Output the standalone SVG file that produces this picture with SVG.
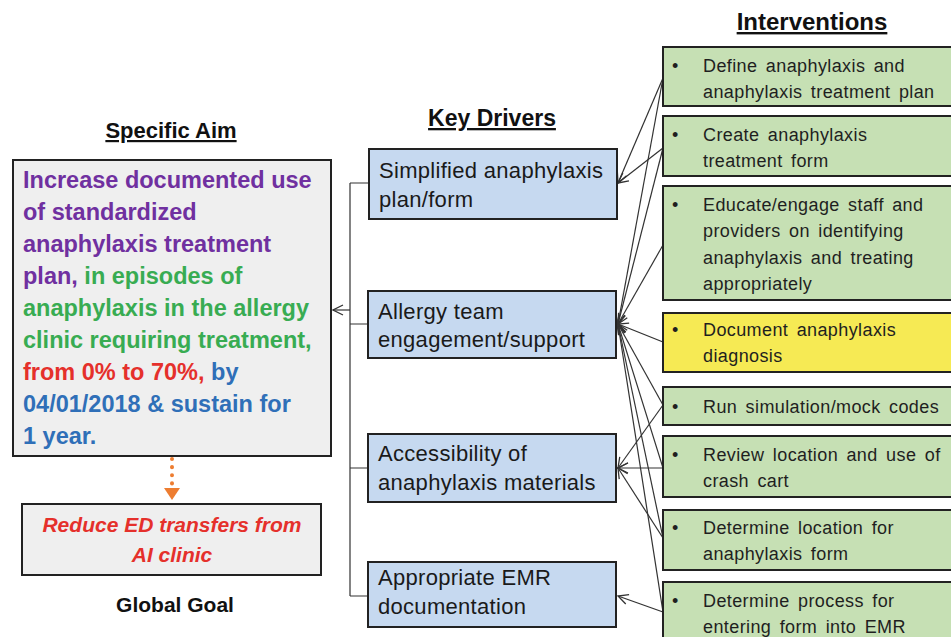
<svg xmlns="http://www.w3.org/2000/svg" width="951" height="637" viewBox="0 0 951 637">
  <style>
    .hdr { font-family: "Liberation Sans", Arial, sans-serif; font-weight: bold; fill: #111; text-anchor: middle; text-decoration: underline; }
    .aim { fill: #efefef; stroke: #222; stroke-width: 2; }
    .aimtxt { font-family: "Liberation Sans", Arial, sans-serif; font-weight: bold; font-size: 23.5px; }
    .pu { fill: #7030a0; } .gr { fill: #38ac52; } .rd { fill: #e5302b; } .bl { fill: #2f6fb8; }
    .drv { fill: #c6d9f0; stroke: #222; stroke-width: 2; }
    .drvtxt { font-family: "Liberation Sans", Arial, sans-serif; font-size: 22px; letter-spacing: 0.3px; fill: #1a1a1a; }
    .int { fill: #c6e0b4; stroke: #222; stroke-width: 2; }
    .intY { fill: #f6ea54; stroke: #222; stroke-width: 2; }
    .inttxt { font-family: "Liberation Sans", Arial, sans-serif; font-size: 18px; fill: #1f1f1f; letter-spacing: 0.4px; word-spacing: 3px; }
    .conn { stroke: #333; stroke-width: 1.2; fill: none; }
  </style>
  <defs>
    <marker id="vee" markerWidth="12" markerHeight="12" refX="11" refY="6" orient="auto" markerUnits="userSpaceOnUse">
      <path d="M1,1 L11,6 L1,11" fill="none" stroke="#333" stroke-width="1.3"/>
    </marker>
    <marker id="tri" markerWidth="14" markerHeight="18" refX="2" refY="8" orient="auto" markerUnits="userSpaceOnUse">
      <path d="M0,0 L12,8 L0,16 Z" fill="#ed7d31"/>
    </marker>
  </defs>

  <rect width="951" height="637" fill="#ffffff"/>

  <!-- column headings -->
  <text class="hdr" x="171" y="138" font-size="22">Specific Aim</text>
  <text class="hdr" x="492" y="126" font-size="23">Key Drivers</text>
  <text class="hdr" x="812" y="30" font-size="24">Interventions</text>

  <!-- connectors -->
  <g id="connectors">
    <!-- bracket joining the key drivers to the aim -->
    <path class="conn" d="M350,183 V596 M350,183 H369 M350,324 H369 M350,468 H369 M350,596 H369"/>
    <line class="conn" x1="350" y1="310" x2="333" y2="310" marker-end="url(#vee)"/>
    <!-- interventions to drivers -->
    <line class="conn" x1="663" y1="78" x2="618" y2="183" marker-end="url(#vee)"/>
    <line class="conn" x1="663" y1="78" x2="618" y2="324" marker-end="url(#vee)"/>
    <line class="conn" x1="663" y1="148" x2="618" y2="183" marker-end="url(#vee)"/>
    <line class="conn" x1="663" y1="148" x2="618" y2="324" marker-end="url(#vee)"/>
    <line class="conn" x1="663" y1="245" x2="618" y2="324" marker-end="url(#vee)"/>
    <line class="conn" x1="663" y1="342" x2="618" y2="324" marker-end="url(#vee)"/>
    <line class="conn" x1="663" y1="405" x2="618" y2="324" marker-end="url(#vee)"/>
    <line class="conn" x1="663" y1="405" x2="618" y2="468" marker-end="url(#vee)"/>
    <line class="conn" x1="663" y1="468" x2="618" y2="468" marker-end="url(#vee)"/>
    <line class="conn" x1="663" y1="468" x2="618" y2="324" marker-end="url(#vee)"/>
    <line class="conn" x1="663" y1="538" x2="618" y2="468" marker-end="url(#vee)"/>
    <line class="conn" x1="663" y1="538" x2="618" y2="324" marker-end="url(#vee)"/>
    <line class="conn" x1="663" y1="612" x2="618" y2="596" marker-end="url(#vee)"/>
    <line class="conn" x1="663" y1="612" x2="618" y2="324" marker-end="url(#vee)"/>
    <!-- aim to global goal -->
    <line x1="172" y1="459" x2="172" y2="490" stroke="#ed7d31" stroke-width="4" stroke-linecap="round" stroke-dasharray="0.1 8" marker-end="url(#tri)"/>
  </g>

  <!-- specific aim -->
  <g id="aim">
    <rect class="aim" x="13" y="160" width="318" height="296"/>
    <text class="aimtxt" x="23" y="188"><tspan class="pu">Increase documented use</tspan></text>
    <text class="aimtxt" x="23" y="220"><tspan class="pu">of standardized</tspan></text>
    <text class="aimtxt" x="23" y="252"><tspan class="pu">anaphylaxis treatment</tspan></text>
    <text class="aimtxt" x="23" y="284"><tspan class="pu">plan,</tspan><tspan class="gr"> in episodes of</tspan></text>
    <text class="aimtxt" x="23" y="316"><tspan class="gr">anaphylaxis in the allergy</tspan></text>
    <text class="aimtxt" x="23" y="348"><tspan class="gr">clinic requiring treatment,</tspan></text>
    <text class="aimtxt" x="23" y="380"><tspan class="rd">from 0% to 70%,</tspan><tspan class="bl"> by</tspan></text>
    <text class="aimtxt" x="23" y="412"><tspan class="bl">04/01/2018 &amp; sustain for</tspan></text>
    <text class="aimtxt" x="23" y="444"><tspan class="bl">1 year.</tspan></text>
  </g>

  <!-- global goal -->
  <g id="goal">
    <rect class="aim" x="22" y="504" width="299" height="71"/>
    <text x="172" y="532" font-family="Liberation Sans, Arial, sans-serif" font-size="21" font-weight="bold" font-style="italic" fill="#e5302b" text-anchor="middle">Reduce ED transfers from</text>
    <text x="172" y="562" font-family="Liberation Sans, Arial, sans-serif" font-size="21" font-weight="bold" font-style="italic" fill="#e5302b" text-anchor="middle">AI clinic</text>
    <text x="175" y="612" font-family="Liberation Sans, Arial, sans-serif" font-size="21" font-weight="bold" fill="#111" text-anchor="middle">Global Goal</text>
  </g>

  <!-- key drivers -->
  <g id="driver-plan">
    <rect class="drv" x="369" y="149" width="248" height="70"/>
    <text class="drvtxt" x="379" y="178">Simplified anaphylaxis</text>
    <text class="drvtxt" x="379" y="207">plan/form</text>
  </g>
  <g id="driver-team">
    <rect class="drv" x="368" y="291" width="248" height="67"/>
    <text class="drvtxt" x="378" y="319">Allergy team</text>
    <text class="drvtxt" x="378" y="347">engagement/support</text>
  </g>
  <g id="driver-access">
    <rect class="drv" x="368" y="434" width="248" height="68"/>
    <text class="drvtxt" x="378" y="461">Accessibility of</text>
    <text class="drvtxt" x="378" y="490">anaphylaxis materials</text>
  </g>
  <g id="driver-emr">
    <rect class="drv" x="368" y="562" width="248" height="65"/>
    <text class="drvtxt" x="378" y="585">Appropriate EMR</text>
    <text class="drvtxt" x="378" y="614">documentation</text>
  </g>

  <!-- interventions -->
  <g id="int-define">
    <rect class="int" x="663" y="47" width="300" height="59"/>
    <text class="inttxt" x="672" y="72">•</text>
    <text class="inttxt" x="703" y="72">Define anaphylaxis and</text>
    <text class="inttxt" x="703" y="98">anaphylaxis treatment plan</text>
  </g>
  <g id="int-create">
    <rect class="int" x="663" y="116" width="300" height="60"/>
    <text class="inttxt" x="672" y="141">•</text>
    <text class="inttxt" x="703" y="141">Create anaphylaxis</text>
    <text class="inttxt" x="703" y="167">treatment form</text>
  </g>
  <g id="int-educate">
    <rect class="int" x="663" y="186" width="300" height="114"/>
    <text class="inttxt" x="672" y="211">•</text>
    <text class="inttxt" x="703" y="211">Educate/engage staff and</text>
    <text class="inttxt" x="703" y="237">providers on identifying</text>
    <text class="inttxt" x="703" y="264">anaphylaxis and treating</text>
    <text class="inttxt" x="703" y="290">appropriately</text>
  </g>
  <g id="int-document">
    <rect class="intY" x="663" y="313" width="300" height="59"/>
    <text class="inttxt" x="672" y="336">•</text>
    <text class="inttxt" x="703" y="336">Document anaphylaxis</text>
    <text class="inttxt" x="703" y="362">diagnosis</text>
  </g>
  <g id="int-simulation">
    <rect class="int" x="663" y="387" width="300" height="38"/>
    <text class="inttxt" x="672" y="413">•</text>
    <text class="inttxt" x="703" y="413">Run simulation/mock codes</text>
  </g>
  <g id="int-crashcart">
    <rect class="int" x="663" y="436" width="300" height="61"/>
    <text class="inttxt" x="672" y="461">•</text>
    <text class="inttxt" x="703" y="461">Review location and use of</text>
    <text class="inttxt" x="703" y="487">crash cart</text>
  </g>
  <g id="int-location">
    <rect class="int" x="663" y="510" width="300" height="60"/>
    <text class="inttxt" x="672" y="534">•</text>
    <text class="inttxt" x="703" y="534">Determine location for</text>
    <text class="inttxt" x="703" y="560">anaphylaxis form</text>
  </g>
  <g id="int-emr">
    <rect class="int" x="663" y="582" width="300" height="70"/>
    <text class="inttxt" x="672" y="607">•</text>
    <text class="inttxt" x="703" y="607">Determine process for</text>
    <text class="inttxt" x="703" y="633">entering form into EMR</text>
  </g>
</svg>
